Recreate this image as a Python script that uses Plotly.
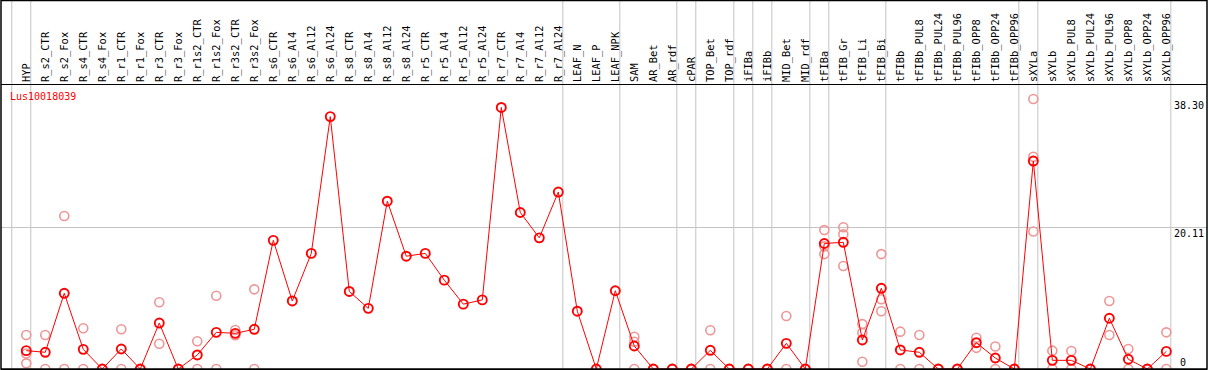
import plotly.graph_objects as go

gene = "Lus10018039"

categories = ["HYP", "R_s2_CTR", "R_s2_Fox", "R_s4_CTR", "R_s4_Fox", "R_r1_CTR", "R_r1_Fox",
              "R_r3_CTR", "R_r3_Fox", "R_r1s2_CTR", "R_r1s2_Fox", "R_r3s2_CTR", "R_r3s2_Fox",
              "R_s6_CTR", "R_s6_Al4", "R_s6_Al12", "R_s6_Al24", "R_s8_CTR", "R_s8_Al4", "R_s8_Al12",
              "R_s8_Al24", "R_r5_CTR", "R_r5_Al4", "R_r5_Al12", "R_r5_Al24", "R_r7_CTR", "R_r7_Al4",
              "R_r7_Al12", "R_r7_Al24", "LEAF_N", "LEAF_P", "LEAF_NPK", "SAM", "AR_Bet", "AR_rdf",
              "cPAR", "TOP_Bet", "TOP_rdf", "iFIBa", "iFIBb", "MID_Bet", "MID_rdf", "tFIBa",
              "tFIB_Gr", "tFIB_Li", "tFIB_Bi", "tFIBb", "tFIBb_PUL8", "tFIBb_PUL24", "tFIBb_PUL96",
              "tFIBb_OPP8", "tFIBb_OPP24", "tFIBb_OPP96", "sXYLa", "sXYLb", "sXYLb_PUL8",
              "sXYLb_PUL24", "sXYLb_PUL96", "sXYLb_OPP8", "sXYLb_OPP24", "sXYLb_OPP96"]

means = [2.60, 2.37, 10.74, 2.79, 0, 2.84, 0, 6.52, 0, 1.99, 5.20, 5.06, 5.63,
         18.25, 9.65, 16.4, 35.8, 11.0, 8.6, 23.8, 16.0, 16.4, 12.6, 9.2, 9.8,
         37.1, 22.2, 18.6, 25.1, 8.2, 0, 11.1, 3.26, 0, 0, 0, 2.65, 0, 0, 0, 3.64, 0,
         17.8, 17.97, 4.11, 11.45, 2.7, 2.37, 0, 0, 3.73, 1.56, 0,
         29.5, 1.23, 1.23, 0, 7.2, 1.38, 0, 2.5]

replicates = [
    [4.82, 2.2, 0.8], [4.82, 0], [21.7, 0], [5.77, 0], [0, 0], [5.63, 0], [0, 0],
    [9.46, 3.59], [0, 0], [3.93, 0], [10.4, 0], [5.53, 4.78], [11.3, 0],
    [], [], [], [], [], [], [], [], [], [], [], [], [], [], [], [],
    [], [], [], [4.58, 3.87, 0], [0, 0], [0, 0], [0, 0], [5.49, 0], [0, 0], [0, 0], [0, 0],
    [7.52, 0], [0, 0],
    [19.7, 17.4, 16.3], [20.1, 19.1, 14.6], [6.37, 5.15, 1.03], [16.3, 9.9, 8.2],
    [5.3, 0], [4.82, 0], [0, 0], [0, 0], [4.44, 3.0], [3.2, 0], [0, 0],
    [38.3, 30.1, 19.5], [2.6, 0], [2.55, 0], [0, 0], [9.65, 4.82], [2.84, 0], [0, 0], [5.2, 0],
]

# group separators are drawn after these category indices (-1 = before the first)
separators_after = [-1, 0, 28, 31, 34, 35, 37, 38, 39, 41, 42, 45, 52, 53, 60]

axis_ticks = [38.30, 20.11, 0]

mono = "DejaVu Sans Mono"

idx = list(range(len(categories)))
rep_x, rep_y = [], []
for i, vals in enumerate(replicates):
    for v in vals:
        rep_x.append(i)
        rep_y.append(v)

fig = go.Figure()
fig.add_trace(go.Scatter(
    x=rep_x, y=rep_y, mode="markers",
    marker=dict(symbol="circle-open", size=9, color="rgb(238,150,150)", line=dict(width=1.6)),
    hoverinfo="skip", showlegend=False))
fig.add_trace(go.Scatter(
    x=idx, y=means, mode="lines+markers",
    line=dict(color="red", width=1),
    marker=dict(symbol="circle-open", size=9, color="red", line=dict(width=1.9)),
    showlegend=False))

W, H = 1209, 370
ml, mr, mt, mb = 1, 2, 85, 1
plot_h = H - mt - mb
px_per_unit = 7.05
ymax = plot_h / px_per_unit
top_paper = (H - mb) / plot_h  # paper y of the figure's top pixel row

shapes = []
for s in separators_after:
    xs = s + 0.237
    shapes.append(dict(type="line", xref="x", yref="paper", x0=xs, x1=xs, y0=0, y1=top_paper,
                       line=dict(color="#c4c4c4", width=1), layer="below"))
shapes.append(dict(type="rect", xref="paper", yref="paper", x0=0, x1=1, y0=0, y1=top_paper - 0.002,
                   line=dict(color="black", width=1.5), layer="above"))

annotations = [dict(text=gene, xref="paper", yref="paper", x=0.006, y=0.985, xanchor="left",
                    yanchor="top", showarrow=False, font=dict(family=mono, size=10, color="red"))]
for v in axis_ticks:
    annotations.append(dict(text=("%.2f" % v) if v else "0", xref="paper", yref="y",
                            x=0.9985 if v else 0.9768, y=v,
                            xanchor="right" if v else "left", yanchor="top" if v else "bottom",
                            showarrow=False, borderpad=0,
                            font=dict(family=mono, size=10, color="black")))

fig.update_layout(
    width=W, height=H, margin=dict(l=ml, r=mr, t=mt, b=mb, pad=0),
    plot_bgcolor="white", paper_bgcolor="white", showlegend=False,
    shapes=shapes, annotations=annotations,
    xaxis=dict(range=[-1.33, 62.14], tickmode="array", tickvals=idx, ticktext=categories,
               side="top", tickangle=-90, ticks="", showgrid=False, zeroline=False,
               showline=True, mirror=True, linecolor="black", linewidth=1, automargin=False,
               tickfont=dict(family=mono, size=10.4, color="black")),
    yaxis=dict(range=[0, ymax], tickmode="array", tickvals=[20.11], showticklabels=False,
               showgrid=True, gridcolor="#c4c4c4", gridwidth=1, zeroline=False, showline=False,
               automargin=False, fixedrange=True),
)

fig.write_html("out.html", config={"displayModeBar": False},
               post_script="document.body.style.margin='0';document.body.style.overflow='hidden';")
